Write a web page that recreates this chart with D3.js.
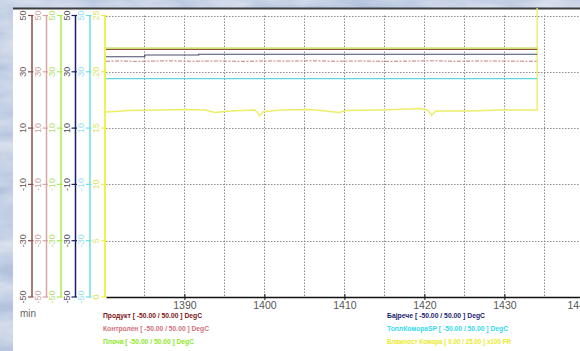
<!DOCTYPE html>
<html>
<head>
<meta charset="utf-8">
<script src="https://cdn.jsdelivr.net/npm/d3@7"></script>
<style>
  html, body { margin: 0; padding: 0; background: #c6d3e7; }
  svg { display: block; }
</style>
</head>
<body>
<svg id="chart" width="580" height="351"></svg>
<script>
// Time axis (minutes) and tick labels
const timeTicks = [1390, 1400, 1410, 1420, 1430, 1440];
const timeGrid = [1385, 1390, 1395, 1400, 1405, 1410, 1415, 1420, 1425, 1430, 1435, 1440];
const tempTicks = [50, 30, 10, -10, -30, -50];
const humTicks = [25, 20, 15, 10, 5, 0];

// Series: [minute, value]
const produkt = [[1380.2, 37.9], [1434.1, 37.9]];
const plocha = [[1380.2, 38.4], [1434.1, 38.4]];
const bajreche = [[1380.2, 35.35], [1385.05, 35.95], [1391.8, 36.25], [1434.1, 36.25]];
const kontrolen = [[1380.2, 33.75], [1382, 33.85], [1384, 33.7], [1386, 33.8], [1388, 33.9],
  [1391, 33.75], [1394, 33.85], [1397, 33.7], [1400, 33.85], [1403, 33.8], [1406, 33.9],
  [1409, 33.75], [1412, 33.85], [1415, 33.7], [1418, 33.8], [1421, 33.9], [1424, 33.75],
  [1427, 33.85], [1430, 33.8], [1434.1, 33.75]];
const toplKomora = [[1380.2, 27.55], [1434.1, 27.55]];
const vlaznost = [[1380.2, 16.43], [1383.2, 16.56], [1386.9, 16.61], [1390, 16.65], [1392.6, 16.61],
  [1393.8, 16.39], [1395.7, 16.52], [1398.8, 16.61], [1399.2, 16.34], [1399.4, 16.07],
  [1399.8, 16.43], [1401.9, 16.61], [1405.7, 16.65], [1409.4, 16.39], [1410.1, 16.56],
  [1414.4, 16.61], [1418.2, 16.70], [1419.4, 16.74], [1420.4, 16.61], [1420.9, 16.12],
  [1421.4, 16.52], [1425.7, 16.52], [1429.4, 16.61], [1431.9, 16.61], [1434.1, 16.61],
  [1434.1, 25.67]];

const legendLabels = [
  "Продукт [ -50.00 / 50.00 ] DegC",
  "Контролен [ -50.00 / 50.00 ] DegC",
  "Плоча [ -50.00 / 50.00 ] DegC",
  "Бајрече [ -50.00 / 50.00 ] DegC",
  "ТоплКомораSP [ -50.00 / 50.00 ] DegC",
  "Влажност Комора [ 0.00 / 25.00 ] x100 FR"
];

const svg = d3.select("#chart");
const W = 580, H = 351;

// Marbled backdrop
const defs = svg.append("defs");
const marble = defs.append("filter").attr("id", "marble").attr("x", 0).attr("y", 0).attr("width", 1).attr("height", 1);
marble.append("feTurbulence").attr("type", "fractalNoise").attr("baseFrequency", "0.015 0.05")
  .attr("numOctaves", 4).attr("seed", 7).attr("result", "noise");
marble.append("feColorMatrix").attr("in", "noise").attr("type", "matrix")
  .attr("values", "0 0 0 0 1  0 0 0 0 1  0 0 0 0 1  0.9 0 0 0 -0.25").attr("result", "veins");
marble.append("feComposite").attr("in", "veins").attr("in2", "SourceGraphic").attr("operator", "over");
svg.append("rect").attr("width", W).attr("height", H).attr("fill", "#b3c3de").attr("filter", "url(#marble)");

// White panel with dark top rule
const panelX = 13, panelY = 9;
svg.append("rect").attr("x", panelX).attr("y", panelY).attr("width", W - panelX).attr("height", H - panelY).attr("fill", "#ffffff");
svg.append("line").attr("x1", panelX).attr("x2", W).attr("y1", panelY - 0.5).attr("y2", panelY - 0.5)
  .attr("stroke", "#3d3d3d").attr("stroke-width", 2.2);

// Scales
const plotL = 106, plotR = 580, plotT = 15.5, plotB = 297;
const x = d3.scaleLinear().domain([1380.2, 1439.45]).range([plotL, plotR]);
const y = d3.scaleLinear().domain([-50, 50]).range([plotB, plotT]);
const yHum = d3.scaleLinear().domain([0, 25]).range([plotB, plotT]);

// Grid
const grid = svg.append("g").attr("stroke", "#8a8a8a").attr("stroke-width", 1).attr("stroke-dasharray", "1.5,1.5");
grid.selectAll("line.v").data(timeGrid).join("line")
  .attr("x1", d => Math.round(x(d)) + 0.5).attr("x2", d => Math.round(x(d)) + 0.5)
  .attr("y1", plotT).attr("y2", plotB);
grid.selectAll("line.h").data(tempTicks.filter(d => d > -50)).join("line")
  .attr("x1", plotL).attr("x2", plotR)
  .attr("y1", d => Math.round(y(d)) + 0.5).attr("y2", d => Math.round(y(d)) + 0.5);

// Bottom time axis
const xAxis = svg.append("g").attr("transform", `translate(0,${plotB})`)
  .call(d3.axisBottom(x).tickValues(timeTicks).tickSize(3).tickSizeOuter(0).tickFormat(d3.format("d")));
xAxis.select(".domain").attr("stroke", "#111").attr("stroke-width", 1.6);
xAxis.selectAll(".tick line").attr("stroke", "#111").attr("y1", -3).attr("y2", 3);
xAxis.selectAll(".tick text").attr("fill", "#555").attr("font-family", "Arial, 'Liberation Sans', sans-serif")
  .attr("font-size", 10.5).attr("dy", "0.55em");
// The last label is pulled in so that it starts inside the panel edge
xAxis.selectAll(".tick text").filter(d => d === 1440)
  .attr("text-anchor", "start").attr("x", 567 - x(1440));

svg.append("text").attr("x", 20).attr("y", 317).text("min")
  .attr("font-family", "Arial, 'Liberation Sans', sans-serif").attr("font-size", 10).attr("fill", "#666");

// Left value axes
const axes = [
  { lineX: 32, color: "#8b4f4f", labelColor: "#6e5454", scale: y, ticks: tempTicks },
  { lineX: 46.5, color: "#d9a4a4", labelColor: "#c9a2a2", scale: y, ticks: tempTicks },
  { lineX: 61, color: "#a6ee4a", labelColor: "#b2e070", scale: y, ticks: tempTicks },
  { lineX: 75.5, color: "#1c1c6c", labelColor: "#4a4a60", scale: y, ticks: tempTicks },
  { lineX: 90, color: "#6adfe8", labelColor: "#8fe2ea", scale: y, ticks: tempTicks },
  { lineX: 105, color: "#eeee44", labelColor: "#e2e25a", scale: yHum, ticks: humTicks }
];
axes.forEach(a => {
  const g = svg.append("g");
  g.append("line").attr("x1", a.lineX).attr("x2", a.lineX).attr("y1", plotT).attr("y2", plotB)
    .attr("stroke", a.color).attr("stroke-width", a.lineX === 105 ? 1.8 : 1.5);
  g.selectAll("line.tick").data(a.ticks).join("line")
    .attr("x1", a.lineX - 4).attr("x2", a.lineX + 1.5)
    .attr("y1", d => a.scale(d)).attr("y2", d => a.scale(d))
    .attr("stroke", a.color).attr("stroke-width", 1.2);
  g.selectAll("text").data(a.ticks).join("text")
    .attr("transform", d => `translate(${a.lineX - 9},${a.scale(d)}) rotate(-90)`)
    .attr("text-anchor", "middle").attr("dy", "0.35em")
    .attr("font-family", "Arial, 'Liberation Sans', sans-serif").attr("font-size", 9)
    .attr("fill", a.labelColor).text(d => d);
});

// Traces
const lineTemp = d3.line().x(d => x(d[0])).y(d => y(d[1]));
const lineStep = d3.line().x(d => x(d[0])).y(d => y(d[1])).curve(d3.curveStepAfter);
const lineHum = d3.line().x(d => x(d[0])).y(d => yHum(d[1]));
const traces = svg.append("g").attr("fill", "none");
traces.append("path").attr("d", lineHum(vlaznost)).attr("stroke", "#eded6a").attr("stroke-width", 1.4);
traces.append("path").attr("d", lineTemp(toplKomora)).attr("stroke", "#5fd6e2").attr("stroke-width", 1.2);
traces.append("path").attr("d", lineTemp(kontrolen)).attr("stroke", "#c87878").attr("stroke-width", 1)
  .attr("stroke-dasharray", "4,1.5,2,1.5");
traces.append("path").attr("d", lineStep(bajreche)).attr("stroke", "#4a4a6a").attr("stroke-width", 1.1);
traces.append("path").attr("d", lineTemp(plocha)).attr("stroke", "#b5d84a").attr("stroke-width", 1.1);
traces.append("path").attr("d", lineTemp(produkt)).attr("stroke", "#9a4e3e").attr("stroke-width", 1.1);

// Legend
const legendColors = ["#7d1414", "#d0707a", "#8ee82a", "#1c1c72", "#36d8ec", "#eaea2a"];
const legendPos = [[103, 318], [103, 331], [103, 344], [387, 318], [387, 331], [387, 344]];
const legendWidths = [99, 106, 91, 98, 121, 124];
svg.append("g").selectAll("text").data(legendLabels).join("text")
  .attr("x", (d, i) => legendPos[i][0]).attr("y", (d, i) => legendPos[i][1])
  .attr("font-family", "Arial, 'Liberation Sans', sans-serif").attr("font-weight", "bold").attr("font-size", 7)
  .attr("textLength", (d, i) => legendWidths[i]).attr("lengthAdjust", "spacingAndGlyphs")
  .attr("fill", (d, i) => legendColors[i]).text(d => d);
</script>
</body>
</html>
